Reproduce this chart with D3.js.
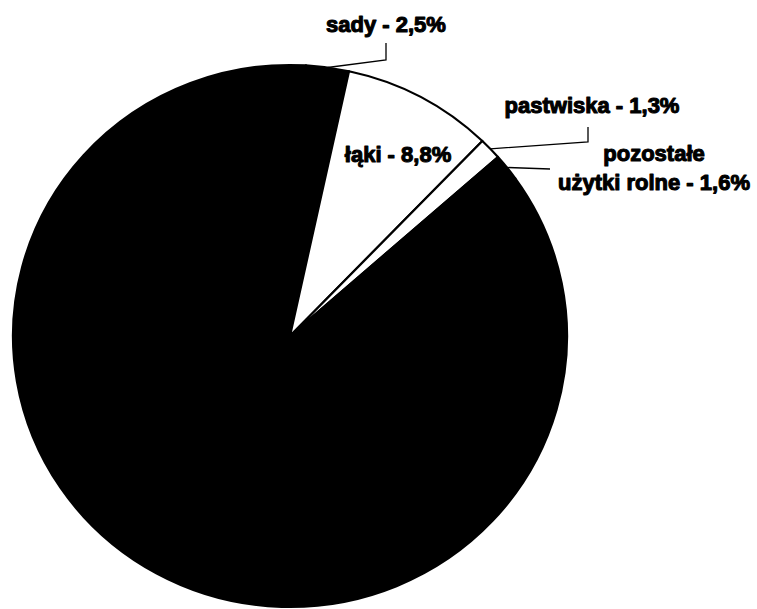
<!DOCTYPE html>
<html>
<head>
<meta charset="utf-8">
<script src="https://cdn.jsdelivr.net/npm/d3@7"></script>
<style>
  body { margin: 0; background: #fff; }
  svg { display: block; }
  text { font-family: "Liberation Sans", Arial, sans-serif; font-weight: bold; }
</style>
</head>
<body>
<div id="chart"></div>
<script>
// Struktura użytków rolnych (%)
const categories = ["sady", "łąki", "pastwiska", "pozostałe użytki rolne", "grunty orne"];
const values = [2.5, 8.8, 1.3, 1.6, 85.8];
const fills = ["#000", "#fff", "#fff", "#000", "#000"];
const labelLines = [
    ["sady - 2,5%"],
    ["łąki - 8,8%"],
    ["pastwiska - 1,3%"],
    ["pozostałe", "użytki rolne - 1,6%"],
    []
];

const width = 757, height = 609;
const cx = 290, cy = 336, rx = 277, ry = 271;
const r = ry;
const offset = 3.3 * Math.PI / 180;

const svg = d3.select("#chart").append("svg")
    .attr("width", width)
    .attr("height", height);

const pie = d3.pie().sort(null).value(d => d)
    .startAngle(offset).endAngle(offset + 2 * Math.PI);
const arcs = pie(values);
const arc = d3.arc().innerRadius(0).outerRadius(r);

// pie drawn as a circle, stretched a bit horizontally
const g = svg.append("g")
    .attr("transform", `translate(${cx},${cy}) scale(${rx / r},1)`);

g.selectAll("path")
    .data(arcs)
    .join("path")
    .attr("d", arc)
    .attr("fill", (d, i) => fills[i])
    .attr("stroke", "#000")
    .attr("stroke-width", 2.2)
    .attr("stroke-linejoin", "round")
    .attr("vector-effect", "non-scaling-stroke");

// point on the pie edge at a given angle
function edge(a) {
    return [cx + rx * Math.sin(a), cy - ry * Math.cos(a)];
}
const mid = d => (d.startAngle + d.endAngle) / 2;

// leaders: slice edge -> elbow -> label
const leaders = [
    { i: 0, pts: [[386, 60], [386, 43]] },
    { i: 2, pts: [[588, 142], [588, 127]] },
    { i: 3, pts: [[550, 169]] }
];
const line = d3.line();
leaders.forEach(l => {
    svg.append("path")
        .attr("d", line([edge(mid(arcs[l.i]))].concat(l.pts)))
        .attr("fill", "none")
        .attr("stroke", "#000")
        .attr("stroke-width", 1.3);
});

// label positions (anchor middle, baseline of first line)
const labelPos = [[386, 32], [398, 162], [592, 113], [654, 161]];
const lineGap = 29;

labelPos.forEach((p, i) => {
    const t = svg.append("text")
        .attr("x", p[0])
        .attr("y", p[1])
        .attr("text-anchor", "middle")
        .attr("font-size", 22)
        .attr("fill", "#000")
        .attr("stroke", "#000")
        .attr("stroke-width", 1.1)
        .attr("stroke-linejoin", "round");
    labelLines[i].forEach((s, k) => {
        t.append("tspan")
            .attr("x", p[0])
            .attr("dy", k === 0 ? 0 : lineGap)
            .text(s);
    });
});
</script>
</body>
</html>
